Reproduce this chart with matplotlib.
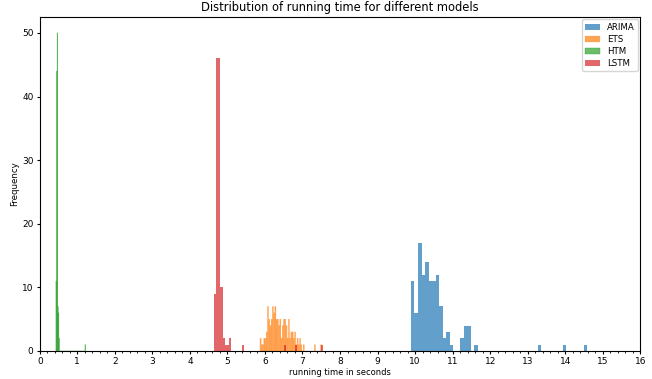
import numpy as np
import matplotlib
matplotlib.use("Agg")
import matplotlib.pyplot as plt
from matplotlib.ticker import AutoMinorLocator

models = ["ARIMA", "ETS", "HTM", "LSTM"]

# range (min, max) of running time for each model, 50 histogram bins each
arima_range = (9.89, 14.59)
ets_range = (5.867, 7.51)
htm_range = (0.43, 1.22)
lstm_range = (4.64, 7.55)

arima_counts = [11, 6, 17, 12, 14, 11, 11, 12, 7, 2, 3, 1, 0, 0, 2, 4, 4, 0, 1, 0,
                0, 0, 0, 0, 0, 0, 0, 0, 0, 0, 0, 0, 0, 0, 0, 0, 1, 0, 0, 0,
                0, 0, 0, 1, 0, 0, 0, 0, 0, 1]
ets_counts = [2, 1, 1, 2, 2, 3, 7, 5, 4, 5, 7, 6, 7, 5, 5, 4, 5, 2, 4, 5,
              5, 4, 2, 5, 2, 3, 3, 2, 3, 1, 2, 1, 2, 1, 0, 1, 0, 0, 0, 0,
              0, 0, 0, 0, 1, 0, 0, 0, 0, 1]
htm_counts = [11, 44, 50, 7, 6, 2, 0, 0, 0, 0, 0, 0, 0, 0, 0, 0, 0, 0, 0, 0,
              0, 0, 0, 0, 0, 0, 0, 0, 0, 0, 0, 0, 0, 0, 0, 0, 0, 0, 0, 0,
              0, 0, 0, 0, 0, 0, 0, 0, 0, 1]
lstm_counts = [9, 46, 46, 10, 2, 1, 1, 2, 0, 0, 0, 0, 0, 1, 0, 0, 0, 0, 0, 0,
               0, 0, 0, 0, 0, 0, 0, 0, 0, 0, 0, 0, 1, 0, 0, 0, 0, 1, 0, 0,
               0, 0, 0, 0, 0, 0, 0, 0, 0, 1]

ranges = [arima_range, ets_range, htm_range, lstm_range]
counts = [arima_counts, ets_counts, htm_counts, lstm_counts]
edge_width = {"ARIMA": 0.0, "ETS": 0.15, "HTM": 0.35, "LSTM": 0.0}

fig = plt.figure(figsize=(6.52, 3.79), dpi=100)
ax = fig.add_axes([0.061, 0.074, 0.921, 0.881])

for name, rng, cnt in zip(models, ranges, counts):
    edges = np.linspace(rng[0], rng[1], len(cnt) + 1)
    _, _, patches = ax.hist(edges[:-1], bins=edges, weights=cnt, alpha=0.7, label=name)
    if edge_width[name] > 0:
        for p in patches:
            p.set_snap(False)
            p.set_edgecolor(p.get_facecolor())
            p.set_linewidth(edge_width[name])

ax.set_xlim(0, 16)
ax.set_xticks(range(0, 17))
ax.xaxis.set_minor_locator(AutoMinorLocator(5))
ax.set_yticks([0, 10, 20, 30, 40, 50])
ax.tick_params(labelsize=6.5, length=2.5, pad=2)
ax.tick_params(which="minor", length=1.5)
ax.set_xlabel("running time in seconds", fontsize=6, labelpad=1)
ax.set_ylabel("Frequency", fontsize=6.2, labelpad=2)
ax.set_title("Distribution of running time for different models", fontsize=8.3, pad=4)
ax.legend(loc="upper right", fontsize=6.2, handlelength=1.7, borderaxespad=0.25,
          labelspacing=0.35, handletextpad=0.8)

fig.savefig("out.png", dpi=100)
